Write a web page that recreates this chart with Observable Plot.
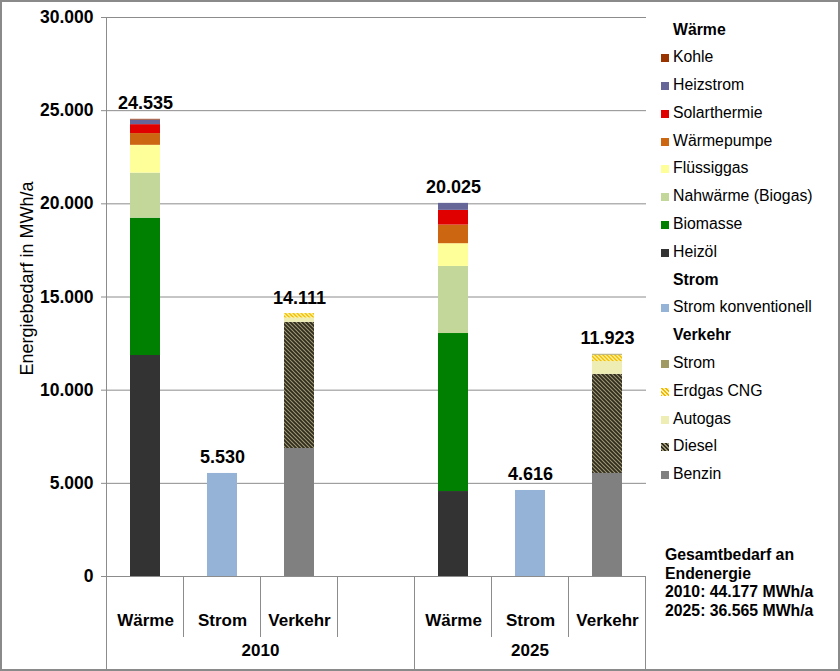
<!DOCTYPE html>
<html>
<head>
<meta charset="utf-8">
<script src="https://cdn.jsdelivr.net/npm/d3@7"></script>
<script src="https://cdn.jsdelivr.net/npm/@observablehq/plot@0.6"></script>
<style>
  body { margin: 0; background: #fff; font-family: "Liberation Sans", Arial, sans-serif; }
  #wrap { position: relative; width: 840px; height: 671px; overflow: hidden; background: #fff; }
  #chart { position: absolute; left: 0; top: 0; }
  #frame { position: absolute; left: 0; top: 0; width: 840px; height: 671px; box-sizing: border-box; border: 2px solid #8a8a8a; pointer-events: none; }
  #legend { position: absolute; left: 661px; top: 15.5px; font-size: 15.8px; color: #000; }
  .row { height: 27.8px; line-height: 27.8px; white-space: nowrap; }
  .hdr { font-weight: bold; padding-left: 12px; }
  .sw { display: inline-block; width: 8px; height: 8px; margin-right: 4px; vertical-align: 0px; }
  #total { position: absolute; left: 665px; top: 546px; font-size: 15.8px; font-weight: bold; line-height: 18.7px; white-space: nowrap; }
</style>
</head>
<body>
<div id="wrap">
  <div id="chart"></div>
  <div id="legend"></div>
  <div id="total"></div>
  <div id="frame"></div>
</div>
<script>
// ---------------- data ----------------
const years = ["2010", "2025"];
const categories = ["Wärme", "Strom", "Verkehr"];
const heatSources = ["Heizöl", "Biomasse", "Nahwärme (Biogas)", "Flüssiggas", "Wärmepumpe", "Solarthermie", "Heizstrom", "Kohle"];
const heat2010 = [11860, 7370, 2420, 1490, 630, 480, 245, 40];
const heat2025 = [4560, 8480, 3600, 1220, 1000, 790, 375, 0];
const stromSources = ["Strom konventionell"];
const strom2010 = [5530];
const strom2025 = [4616];
const trafficSources = ["Benzin", "Diesel", "Autogas", "Erdgas CNG", "Strom"];
const traffic2010 = [6870, 6770, 230, 241, 0];
const traffic2025 = [5530, 5320, 680, 350, 43];
const yTicks = [0, 5000, 10000, 15000, 20000, 25000, 30000];
const yLabel = "Energiebedarf in MWh/a";
const totalLines = ["Gesamtbedarf an", "Endenergie", "2010: 44.177 MWh/a", "2025: 36.565 MWh/a"];

// colours (styles)
const heatColors = ["#333333", "#008000", "#c4d79b", "#ffff99", "#cc6611", "#e00000", "#666699", "#993300"];
const stromColors = ["#95b3d7"];
const trafficColors = ["#808080", "url(#pDiesel)", "#eeeeb4", "url(#pCng)", "#a09a62"];
const trafficCss = ["#808080", "repeating-linear-gradient(45deg,#2e2b1f 0 1.2px,#9c9672 1.2px 2.8px)", "#eeeeb4", "repeating-linear-gradient(45deg,#f0b800 0 1.2px,#fff2a8 1.2px 2.8px)", "#a09a62"];

// ---------------- table ----------------
const gapKey = "2010|";
const key = (yr, cat) => yr + "|" + cat;
const xDomain = [key("2010", "Wärme"), key("2010", "Strom"), key("2010", "Verkehr"), gapKey,
                 key("2025", "Wärme"), key("2025", "Strom"), key("2025", "Verkehr")];
const groups = [
  {year: "2010", keys: xDomain.slice(0, 4)},
  {year: "2025", keys: xDomain.slice(4)}
];
const perYear = {
  "2010": {"Wärme": heat2010, "Strom": strom2010, "Verkehr": traffic2010},
  "2025": {"Wärme": heat2025, "Strom": strom2025, "Verkehr": traffic2025}
};
const sourcesOf = {"Wärme": heatSources, "Strom": stromSources, "Verkehr": trafficSources};
const colorsOf = {"Wärme": heatColors, "Strom": stromColors, "Verkehr": trafficColors};

const rows = [];
const seriesIds = [], seriesFills = [];
for (const cat of categories) {
  sourcesOf[cat].forEach((s, i) => { seriesIds.push(cat + ": " + s); seriesFills.push(colorsOf[cat][i]); });
}
const totals = [];
for (const yr of years) {
  for (const cat of categories) {
    const vals = perYear[yr][cat];
    sourcesOf[cat].forEach((s, i) => rows.push({x: key(yr, cat), series: cat + ": " + s, value: vals[i]}));
    totals.push({x: key(yr, cat), value: d3.sum(vals)});
  }
}

const fmt = d => d3.format(",")(d).replace(/,/g, ".");
const FONT = "Liberation Sans, Arial, sans-serif";

const plot = Plot.plot({
  width: 840,
  height: 671,
  marginLeft: 107,
  marginRight: 194,
  marginTop: 17,
  marginBottom: 95,
  style: {fontFamily: FONT, background: "transparent", color: "#000"},
  x: {domain: xDomain, paddingInner: 0.61, paddingOuter: 0.305, axis: null},
  y: {domain: [0, 30000], axis: null},
  color: {domain: seriesIds, range: seriesFills},
  marks: [
    Plot.gridY(yTicks.filter(d => d > 0), {stroke: "#8c8c8c", strokeOpacity: 1}),
    Plot.axisY(yTicks, {tickSize: 6, tickPadding: 8, tickFormat: fmt, fontSize: 17.5, fontWeight: "bold", stroke: "#8c8c8c", fill: "#000", label: null}),
    Plot.barY(rows, {x: "x", y: "value", fill: "series", order: null}),
    Plot.ruleY([0], {stroke: "#8c8c8c"}),
    Plot.axisX({tickSize: 0, tickPadding: 37, tickFormat: k => k.split("|")[1], fontSize: 17, fontWeight: "bold", label: null}),
    Plot.text(totals, {x: "x", y: "value", text: d => fmt(d.value), lineAnchor: "bottom", dy: -10, fontSize: 18, fontWeight: "bold", fill: "#000"})
  ]
});

// patterns
const svg = d3.select(plot);
const defs = svg.insert("defs", ":first-child");
function hatch(id, bg, fg, w) {
  const p = defs.append("pattern").attr("id", id).attr("patternUnits", "userSpaceOnUse").attr("width", 4).attr("height", 4);
  p.append("rect").attr("width", 4).attr("height", 4).attr("fill", bg);
  p.append("path").attr("d", "M-1,-1L5,5M-1,3L1,5M3,-1L5,1").attr("stroke", fg).attr("stroke-width", w);
}
hatch("pDiesel", "#a09a72", "#2e2b1f", 1.8);
hatch("pCng", "#fff2a8", "#f0c000", 1.5);

// category axis separators, year labels, left axis line, y label
const xs = plot.scale("x"), ys = plot.scale("y");
const gap = xs.step - xs.bandwidth;
const slotL = k => xs.apply(k) - gap / 2;
const slotR = k => xs.apply(k) + xs.bandwidth + gap / 2;
const y0 = ys.apply(0), yTop = ys.apply(30000);
const g = svg.append("g").attr("stroke", "#8c8c8c");
g.append("line").attr("x1", slotL(xDomain[0])).attr("x2", slotL(xDomain[0])).attr("y1", yTop).attr("y2", y0);
for (const grp of groups) {
  const l = slotL(grp.keys[0]), r = slotR(grp.keys[grp.keys.length - 1]);
  for (const xv of [l, r]) g.append("line").attr("x1", xv).attr("x2", xv).attr("y1", y0).attr("y2", 669);
  grp.keys.slice(0, -1).forEach(k => {
    const xv = slotR(k);
    g.append("line").attr("x1", xv).attr("x2", xv).attr("y1", y0).attr("y2", 637);
  });
  svg.append("text").attr("x", (l + r) / 2).attr("y", 650).attr("dy", "0.35em")
    .attr("text-anchor", "middle").attr("font-size", 17).attr("font-weight", "bold").attr("font-family", FONT)
    .text(grp.year);
}
svg.append("text").attr("transform", `translate(27,${(y0 + yTop) / 2 - 18}) rotate(-90)`)
  .attr("text-anchor", "middle").attr("dy", "0.35em").attr("font-size", 18).attr("font-family", FONT)
  .text(yLabel);

document.getElementById("chart").appendChild(plot);

// legend
const legend = d3.select("#legend");
const legendSpec = [
  {title: "Wärme", items: heatSources.slice().reverse(), fills: heatColors.slice().reverse()},
  {title: "Strom", items: stromSources, fills: stromColors},
  {title: "Verkehr", items: trafficSources.slice().reverse(), fills: trafficCss.slice().reverse()}
];
for (const sec of legendSpec) {
  legend.append("div").attr("class", "row hdr").text(sec.title);
  sec.items.forEach((it, i) => {
    const r = legend.append("div").attr("class", "row");
    r.append("span").attr("class", "sw").style("background", sec.fills[i]);
    r.append("span").text(it);
  });
}
d3.select("#total").selectAll("div").data(totalLines).join("div").text(d => d);
</script>
</body>
</html>
